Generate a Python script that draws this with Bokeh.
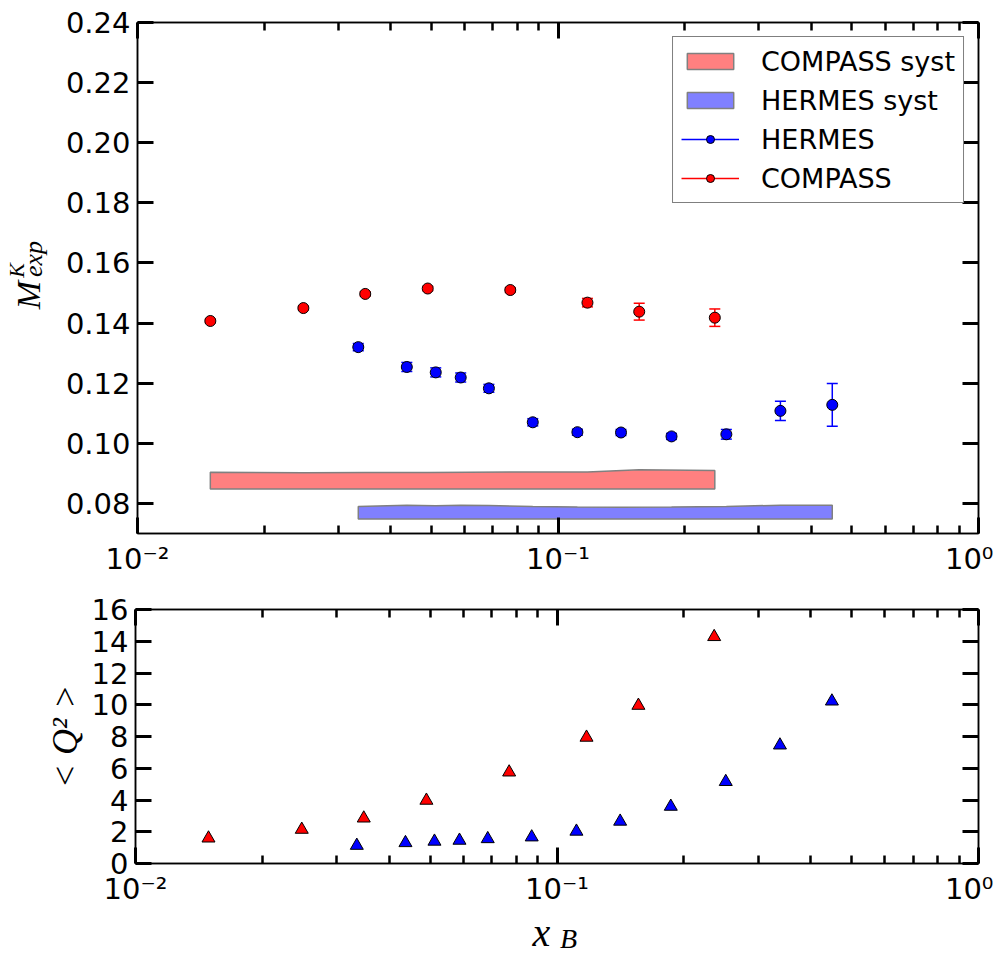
import numpy as np
from bokeh.plotting import figure
from bokeh.models import (Range1d, FixedTicker, LogAxis, LinearAxis, Whisker, TeeHead,
                          ColumnDataSource, Legend, LegendItem, Label, PrintfTickFormatter)
from bokeh.core.properties import value
from bokeh.layouts import column, row
from bokeh.embed import file_html
from bokeh.resources import INLINE

# ---------------- data ----------------
compass_x = [0.0149, 0.0248, 0.0348, 0.049, 0.077, 0.1175, 0.156, 0.236]
compass_m = [0.1407, 0.1450, 0.1497, 0.1515, 0.1510, 0.1468, 0.1438, 0.1418]
compass_err = [0.0006, 0.0006, 0.0007, 0.0007, 0.0008, 0.0014, 0.0028, 0.0029]
compass_q2 = [1.59, 2.14, 2.85, 3.97, 5.75, 7.94, 9.95, 14.28]
compass_syst_base = 0.0848
compass_syst = [0.0056, 0.0054, 0.0055, 0.0055, 0.0057, 0.0057, 0.0064, 0.0062]

hermes_x = [0.0335, 0.0437, 0.0512, 0.0587, 0.0685, 0.0871, 0.1112, 0.1412, 0.1862, 0.2514, 0.338, 0.449]
hermes_m = [0.1320, 0.1254, 0.1236, 0.1219, 0.1183, 0.1070, 0.1037, 0.1036, 0.1023, 0.1030, 0.1108, 0.1128]
hermes_err = [0.0012, 0.0015, 0.0015, 0.0015, 0.0013, 0.0012, 0.0010, 0.0010, 0.0010, 0.0016, 0.0032, 0.0071]
hermes_q2 = [1.13, 1.30, 1.39, 1.45, 1.55, 1.66, 2.02, 2.65, 3.59, 5.15, 7.45, 10.22]
hermes_syst_base = 0.0748
hermes_syst = [0.0042, 0.0046, 0.0044, 0.0046, 0.0045, 0.0042, 0.0040, 0.0039, 0.0040, 0.0042, 0.0046, 0.0046]

x_tick_values = [0.01, 0.1, 1.0]
x_tick_labels = ["10\u207b\u00b2", "10\u207b\u00b9", "10\u2070"]
x_minor_ticks = [0.02, 0.03, 0.04, 0.05, 0.06, 0.07, 0.08, 0.09,
                 0.2, 0.3, 0.4, 0.5, 0.6, 0.7, 0.8, 0.9]
y_ticks_top = [0.08, 0.10, 0.12, 0.14, 0.16, 0.18, 0.20, 0.22, 0.24]
y_ticks_bottom = [0, 2, 4, 6, 8, 10, 12, 14, 16]

TICK_FONT = "DejaVu Sans"
TICK_SIZE = "29px"
MATH_FONT = "Liberation Serif"

TOTAL_W = 993
TOP_H = 579
BOT_H = 330
XLAB_H = 45
LAB1_W = 62
LAB2_W = 88


def style_axis(ax, minor=True):
    ax.axis_line_color = "black"
    ax.axis_line_width = 1.5
    ax.major_tick_in = 16
    ax.major_tick_out = 0
    ax.major_tick_line_width = 3
    ax.major_tick_line_color = "black"
    if minor:
        ax.minor_tick_in = 8
        ax.minor_tick_out = 0
        ax.minor_tick_line_width = 2.5
        ax.minor_tick_line_color = "black"
    else:
        ax.minor_tick_line_color = None
    ax.major_label_text_font = TICK_FONT
    ax.major_label_text_font_size = TICK_SIZE
    ax.major_label_text_color = "black"
    ax.axis_label = None


def make_fig(width, height, yr, b_left, b_top, b_bottom):
    p = figure(width=width, height=height, x_axis_type="log",
               x_range=Range1d(0.01, 1.0), y_range=yr,
               output_backend="svg", toolbar_location=None,
               min_border_left=b_left, min_border_right=15,
               min_border_top=b_top, min_border_bottom=b_bottom)
    p.xgrid.grid_line_color = None
    p.ygrid.grid_line_color = None
    p.outline_line_color = "black"
    p.outline_line_width = 1.5
    p.background_fill_color = "white"
    p.border_fill_color = "white"
    return p


def make_blank(width, height):
    # data units of this strip are its own pixels (origin bottom-left)
    b = figure(width=width, height=height, x_range=Range1d(0, width), y_range=Range1d(0, height),
               output_backend="svg", toolbar_location=None,
               x_axis_location=None, y_axis_location=None,
               min_border=0, min_border_left=0, min_border_right=0,
               min_border_top=0, min_border_bottom=0)
    b.xgrid.grid_line_color = None
    b.ygrid.grid_line_color = None
    b.outline_line_color = None
    b.background_fill_color = "white"
    b.border_fill_color = "white"
    return b


def add_axes(p, yticks, yfmt):
    p.xaxis.ticker = FixedTicker(ticks=x_tick_values, minor_ticks=x_minor_ticks)
    p.xaxis.major_label_overrides = {v: l for v, l in zip(x_tick_values, x_tick_labels)}
    p.yaxis.ticker = FixedTicker(ticks=yticks)
    p.yaxis.formatter = PrintfTickFormatter(format=yfmt)
    for ax in p.xaxis:
        style_axis(ax)
        ax.major_label_standoff = 8
    for ax in p.yaxis:
        style_axis(ax, minor=False)
        ax.major_label_standoff = 7
    top = LogAxis(ticker=FixedTicker(ticks=x_tick_values, minor_ticks=x_minor_ticks),
                  major_label_overrides={v: "" for v in x_tick_values})
    style_axis(top)
    top.major_label_standoff = 0
    p.add_layout(top, "above")
    right = LinearAxis(ticker=FixedTicker(ticks=yticks),
                       major_label_overrides={v: "" for v in yticks})
    style_axis(right, minor=False)
    right.major_label_standoff = 0
    p.add_layout(right, "right")


def math_label(fig, x, y, text, size):
    fig.add_layout(Label(x=x, y=y, x_units="screen", y_units="screen", text=text,
                         text_font=MATH_FONT, text_font_style="italic",
                         text_font_size=size, text_color="black",
                         text_align="center", text_baseline="middle"))


def rot_text(fig, x, y, text, size):
    fig.text(x=[x], y=[y], text=[text], angle=np.pi / 2,
             text_font=value(MATH_FONT), text_font_style="italic",
             text_font_size=value(size), text_color="black",
             text_align="center", text_baseline="middle")


# ---------------- top panel ----------------
p1 = make_fig(TOTAL_W - LAB1_W, TOP_H, Range1d(0.07, 0.24), 135 - LAB1_W, 22, 46)
add_axes(p1, y_ticks_top, "%.2f")

cpx = list(compass_x) + list(compass_x[::-1])
cpy = [compass_syst_base + s for s in compass_syst] + [compass_syst_base] * len(compass_x)
r_csyst = p1.patch(cpx, cpy, fill_color="#ff8080", line_color="#808080", line_width=1.5)
hpx = list(hermes_x) + list(hermes_x[::-1])
hpy = [hermes_syst_base + s for s in hermes_syst] + [hermes_syst_base] * len(hermes_x)
r_hsyst = p1.patch(hpx, hpy, fill_color="#8080ff", line_color="#808080", line_width=1.5)

for xs, ms, es, col in [(hermes_x, hermes_m, hermes_err, "blue"),
                        (compass_x, compass_m, compass_err, "red")]:
    src = ColumnDataSource(dict(x=xs, upper=[m + e for m, e in zip(ms, es)],
                                lower=[m - e for m, e in zip(ms, es)]))
    w = Whisker(base="x", upper="upper", lower="lower", source=src, dimension="height",
                line_color=col, line_width=1.5, level="underlay",
                upper_head=TeeHead(size=11, line_color=col, line_width=1.5),
                lower_head=TeeHead(size=11, line_color=col, line_width=1.5))
    p1.add_layout(w)

r_hseg = p1.segment(x0=hermes_x, x1=hermes_x, y0=hermes_m, y1=hermes_m, line_color="blue", line_width=1.5)
r_hpts = p1.scatter(hermes_x, hermes_m, marker="circle", size=11, fill_color="blue",
                    line_color="black", line_width=1)
r_cseg = p1.segment(x0=compass_x, x1=compass_x, y0=compass_m, y1=compass_m, line_color="red", line_width=1.5)
r_cpts = p1.scatter(compass_x, compass_m, marker="circle", size=11, fill_color="red",
                    line_color="black", line_width=1)

legend = Legend(items=[
    LegendItem(label="COMPASS syst", renderers=[r_csyst]),
    LegendItem(label="HERMES syst", renderers=[r_hsyst]),
    LegendItem(label="HERMES", renderers=[r_hseg, r_hpts]),
    LegendItem(label="COMPASS", renderers=[r_cseg, r_cpts]),
], location="top_right")
legend.margin = 14
legend.padding = 8
legend.spacing = 7
legend.glyph_width = 58
legend.glyph_height = 20
legend.label_height = 32
legend.label_standoff = 22
legend.label_text_font = TICK_FONT
legend.label_text_font_size = "27px"
legend.label_text_color = "black"
legend.border_line_color = "black"
legend.border_line_width = 1.2
legend.background_fill_color = "white"
legend.background_fill_alpha = 1.0
p1.add_layout(legend)

# y label M^K_exp (centres given in page pixels, converted to strip pixels)
lab1 = make_blank(LAB1_W, TOP_H)
rot_text(lab1, 27.5, TOP_H - 309, "M", "34px")
rot_text(lab1, 16, TOP_H - 281, "K", "22px")
rot_text(lab1, 33, TOP_H - 268, "exp", "26px")

# ---------------- bottom panel ----------------
p2 = make_fig(TOTAL_W - LAB2_W, BOT_H, Range1d(0, 16), 135 - LAB2_W, 30, 46)
add_axes(p2, y_ticks_bottom, "%d")

p2.scatter(compass_x, compass_q2, marker="triangle", size=13, fill_color="red",
           line_color="black", line_width=1)
p2.scatter(hermes_x, hermes_q2, marker="triangle", size=13, fill_color="blue",
           line_color="black", line_width=1)

lab2 = make_blank(LAB2_W, BOT_H)
rot_text(lab2, 64, TOP_H + BOT_H - 744, "< Q\u00b2 >", "36px")

xlab = make_blank(TOTAL_W, XLAB_H)
page_bottom = TOP_H + BOT_H + XLAB_H
math_label(xlab, 541, page_bottom - 931.5, "x", "40px")
math_label(xlab, 568, page_bottom - 938, "B", "28px")

layout = column(row(lab1, p1, spacing=0), row(lab2, p2, spacing=0), xlab, spacing=0)
open("out.html", "w").write(file_html(layout, INLINE))
